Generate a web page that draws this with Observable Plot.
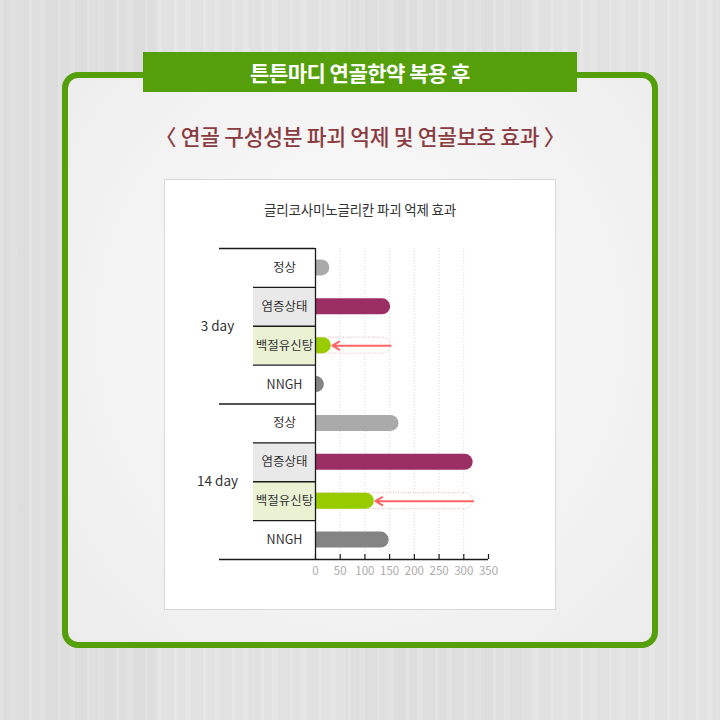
<!DOCTYPE html>
<html>
<head>
<meta charset="utf-8">
<script src="https://cdn.jsdelivr.net/npm/d3@7"></script>
<script src="https://cdn.jsdelivr.net/npm/@observablehq/plot@0.6"></script>
<style>
  html, body { margin: 0; padding: 0; }
  body {
    width: 720px; height: 720px; position: relative; overflow: hidden;
    font-family: "Noto Sans CJK KR", "Noto Sans", sans-serif;
    background-color: #e3e3e3;
    background-image:
      repeating-linear-gradient(90deg, rgba(255,255,255,0.10) 0 3px, rgba(0,0,0,0.008) 3px 11px, rgba(255,255,255,0.06) 11px 17px, rgba(0,0,0,0.012) 17px 29px),
      linear-gradient(90deg, rgba(0,0,0,0.015) 0 22%, rgba(255,255,255,0.04) 22% 48%, rgba(0,0,0,0.012) 48% 73%, rgba(255,255,255,0.04) 73% 100%);
  }
  #box {
    position: absolute; left: 62px; top: 72px; width: 596px; height: 576px;
    box-sizing: border-box; border: 6px solid #55a00a; border-radius: 16px;
    background: radial-gradient(ellipse at 50% 45%, #fbfbfb 0%, #f3f3f3 60%, #ececec 100%);
  }
  #banner {
    position: absolute; left: 143px; top: 52px; width: 434px; height: 40px;
    background: #55a00a; color: #fff; text-align: center;
    font-size: 21px; font-weight: 700; line-height: 40px; letter-spacing: -0.5px;
  }
  #subtitle {
    position: absolute; left: 0; top: 119px; width: 720px; text-align: center;
    font-size: 21.5px; font-weight: 500; color: #8a3b40; line-height: 34px; letter-spacing: -0.3px;
  }
  #card {
    position: absolute; left: 164px; top: 179px; width: 392px; height: 431px;
    box-sizing: border-box; background: #fff; border: 1px solid #d8d8d8;
  }
  #ctitle {
    position: absolute; left: 0; top: 199px; width: 720px; text-align: center;
    font-size: 13.5px; color: #333; line-height: 20px; letter-spacing: -0.2px;
  }
  #chart { position: absolute; left: 164px; top: 238px; }
</style>
</head>
<body>
<div id="box"></div>
<div id="banner">튼튼마디 연골한약 복용 후</div>
<div id="subtitle">〈 연골 구성성분 파괴 억제 및 연골보호 효과 〉</div>
<div id="card"></div>
<div id="ctitle">글리코사미노글리칸 파괴 억제 효과</div>
<div id="chart"></div>
<script>
// ---- data ----
const groups = ["3 day", "14 day"];
const categories = ["정상", "염증상태", "백절유신탕", "NNGH"];
const values3day = [29, 152, 32, 18];
const values14day = [169, 319, 119, 149];
const barColors = ["#aaaaaa", "#9b2e62", "#99cc00", "#848484"];
const cellFills = [null, "#e9e9e9", "#eaf2d3", null];
const xTicks = [0, 50, 100, 150, 200, 250, 300, 350];
const gridTicks = [50, 100, 150, 200, 250, 300];

// ---- build table ----
const seriesByGroup = [values3day, values14day];
const rows = [];
groups.forEach((g, gi) => {
  categories.forEach((c, ci) => {
    rows.push({
      key: g + "|" + c, group: g, cat: c, ci, gi,
      value: seriesByGroup[gi][ci],
      inflam: seriesByGroup[gi][1],
      color: barColors[ci], cell: cellFills[ci]
    });
  });
});
const keys = rows.map(d => d.key);

// ---- layout ----
const W = 392, mL = 151, mR = 68, mT = 10, mB = 30, plotH = 311;
const H = mT + plotH + mB;
const bw = plotH / keys.length;
const barH = 16;
const inset = (bw - barH) / 2;
const cellW = 62, groupW = 96;

const treated = rows.filter(d => d.ci === 2);
const lastKey = keys[keys.length - 1];

const chart = Plot.plot({
  width: W, height: H,
  marginLeft: mL, marginRight: mR, marginTop: mT, marginBottom: mB,
  style: {fontFamily: "'Noto Sans CJK KR', sans-serif", background: "transparent"},
  x: {domain: [0, 350], axis: null},
  y: {domain: keys, axis: null, padding: 0, round: false},
  marks: [
    // grid
    Plot.ruleX(gridTicks, {stroke: "#d9d9d9", strokeDasharray: "1,2"}),
    // table cells
    Plot.barX(rows.filter(d => d.cell), {x1: 0, x2: 0, y: "key", fill: d => d.cell, insetLeft: -cellW}),
    // row separators
    Plot.ruleY(rows.filter(d => d.ci > 0), {y: "key", x1: 0, x2: 0, insetLeft: -cellW, dy: -bw / 2, stroke: "#1a1a1a", strokeWidth: 1.3}),
    // group separators
    Plot.ruleY(rows.filter(d => d.ci === 0), {y: "key", x1: 0, x2: 0, insetLeft: -groupW, dy: -bw / 2, stroke: "#1a1a1a", strokeWidth: 1.3}),
    Plot.ruleY([lastKey], {y: d => d, x1: 0, x2: 350, insetLeft: -groupW, dy: bw / 2, stroke: "#1a1a1a", strokeWidth: 1.3}),
    // row labels
    Plot.text(rows, {y: "key", x: 0, dx: -cellW / 2, text: "cat", fill: "#333", fontSize: 12.5, textAnchor: "middle"}),
    // group labels
    Plot.text(rows.filter(d => d.ci === 2), {y: "key", x: 0, dx: -groupW - 2, dy: -bw / 2, text: "group", fill: "#333", fontSize: 13.5, textAnchor: "middle"}),
    // ghost outline for treated bars (left end hidden by clipping at the axis)
    Plot.barX(treated, {x1: 0, x2: "inflam", y: "key", fill: "#fff", stroke: "#e6b4b4", strokeDasharray: "1,1.5", rx: 8, insetLeft: -20, insetTop: inset, insetBottom: inset, clip: true}),
    // bars with rounded right end (left rounding clipped away)
    Plot.barX(rows, {x1: 0, x2: "value", y: "key", fill: "color", rx: 8, insetLeft: -20, insetTop: inset, insetBottom: inset, clip: true}),
    // arrows
    Plot.arrow(treated, {x1: "inflam", x2: "value", y1: "key", y2: "key", stroke: "#ff6464", strokeWidth: 2, headLength: 6, insetEnd: 1}),
    // y axis line
    Plot.ruleX([0], {stroke: "#1a1a1a", strokeWidth: 1.3}),
    // tick marks (inward)
    Plot.tickX(xTicks, {x: d => d, y: () => lastKey, insetTop: bw - 5, stroke: "#1a1a1a", strokeWidth: 1.2}),
    // tick labels
    Plot.axisX({ticks: xTicks, tickSize: 0, tickPadding: 7, fill: "#aaaaaa", fontSize: 11.5, label: null})
  ]
});
document.getElementById("chart").appendChild(chart);
</script>
</body>
</html>
